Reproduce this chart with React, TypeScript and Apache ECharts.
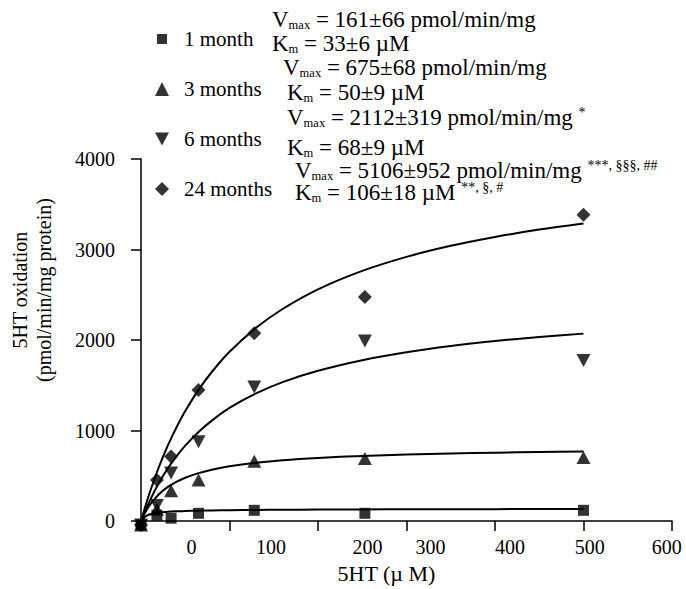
import React, { useEffect, useRef } from "react";
import * as echarts from "echarts";

// ---- data ----
const groups = ["1 month", "3 months", "6 months", "24 months"];
const xPoints = [0, 18, 34, 65, 128, 253, 500];
const month1 = [-43, 65, 32, 86, 119, 86, 119];
const month3 = [-43, 130, 335, 454, 660, 692, 703];
const month6 = [-43, 173, 530, 876, 1481, 1989, 1773];
const month24 = [-43, 454, 714, 1449, 2076, 2476, 3384];

// fitted curves
const fitX = [0, 5, 10, 20, 30, 40, 50, 65, 80, 100, 130, 160, 200, 250, 300, 350, 400, 450, 500];
const fit1 = [0, 50, 75, 95, 103, 108, 112, 115, 117, 120, 123, 125, 127, 129, 130, 131, 132, 133, 133];
const fit3 = [0, 100, 179, 294, 375, 434, 479, 530, 568, 606, 645, 673, 698, 720, 736, 747, 756, 763, 768];
const fit6 = [0, 118, 226, 417, 578, 715, 833, 984, 1110, 1250, 1410, 1535, 1660, 1777, 1865, 1934, 1989, 2034, 2071];
const fit24 = [0, 166, 319, 592, 828, 1034, 1215, 1449, 1647, 1870, 2135, 2343, 2560, 2764, 2919, 3041, 3139, 3220, 3288];

const xTickLabels = ["0", "100", "200", "300", "400", "500", "600"];
const xTickLabelAt = [57, 147, 256, 327, 417, 507, 594];

const vmaxValues = ["161±66", "675±68", "2112±319", "5106±952"];
const vmaxMarks = ["", "", "*", "***, §§§, ##"];
const kmValues = ["33±6", "50±9", "68±9", "106±18"];
const kmMarks = ["", "", "", "**, §, #"];

const FONT = "Liberation Serif";

export default function App() {
  const ref = useRef<HTMLDivElement>(null);
  useEffect(() => {
    if (!ref.current) return;
    const chart = echarts.init(ref.current, undefined, { renderer: "svg" });

    const rich = {
      v: { fontSize: 23, lineHeight: 24, fontFamily: FONT, color: "#000" },
      s: { fontSize: 12.5, lineHeight: 10, verticalAlign: "bottom", fontFamily: FONT, color: "#000" },
      u: { fontSize: 14, lineHeight: 14, verticalAlign: "top", fontFamily: FONT, color: "#000" },
    };
    const vmaxPos = [[272, 19], [283, 67], [287, 117], [295, 170]];
    const kmPos = [[272, 43], [287, 92], [287, 147], [295, 192]];
    const mkText = (x: number, y: number, text: string) => ({
      type: "text",
      x,
      y,
      style: {
        text,
        rich,
        fontFamily: FONT,
        fontSize: 23,
        fill: "#000",
        align: "left",
        verticalAlign: "middle",
        textAlign: "left",
        textVerticalAlign: "middle",
      },
    });
    const graphics: any[] = [];
    groups.forEach((_, i) => {
      graphics.push(
        mkText(
          vmaxPos[i][0],
          vmaxPos[i][1],
          `{v|V}{s|max}{v| = ${vmaxValues[i]} pmol/min/mg}` + (vmaxMarks[i] ? `{v| }{u|${vmaxMarks[i]}}` : "")
        )
      );
      graphics.push(
        mkText(
          kmPos[i][0],
          kmPos[i][1],
          `{v|K}{s|m}{v| = ${kmValues[i]} µM}` + (kmMarks[i] ? `{v| }{u|${kmMarks[i]}}` : "")
        )
      );
    });

    const pts = (ys: number[]) => xPoints.map((x, i) => [x, ys[i]]);
    const fit = (ys: number[]) => fitX.map((x, i) => [x, ys[i]]);
    const lineSeries = (ys: number[]) => ({
      type: "line",
      data: fit(ys),
      smooth: 0.3,
      symbol: "none",
      showSymbol: false,
      silent: true,
      lineStyle: { color: "#000", width: 2 },
      z: 1,
    });
    const scatter = (name: string, ys: number[], symbol: string, size: any, rotate = 0) => ({
      type: "scatter",
      name,
      data: pts(ys),
      symbol,
      symbolSize: size,
      symbolRotate: rotate,
      clip: false,
      itemStyle: { color: "#000" },
      z: 3,
    });

    chart.setOption({
      animation: false,
      backgroundColor: "#fff",
      grid: { left: 139, right: 14, top: 159, bottom: 60, containLabel: false },
      legend: {
        orient: "vertical",
        left: 150,
        top: 23,
        itemWidth: 14,
        itemHeight: 14,
        itemGap: 28,
        selectedMode: false,
        textStyle: { fontFamily: FONT, fontSize: 21, lineHeight: 22, color: "#000", padding: [0, 0, 0, 10] },
        data: [
          { name: groups[0], icon: "path://M0,0M14,14M2,2h10v10h-10z" },
          { name: groups[1], icon: "triangle" },
          { name: groups[2], icon: "path://M0,0L14,0L7,13Z" },
          { name: groups[3], icon: "diamond" },
        ],
      },
      xAxis: {
        type: "value",
        min: 0,
        max: 600,
        interval: 100,
        name: "5HT (µ M)",
        nameLocation: "middle",
        nameGap: 36,
        nameTextStyle: { fontFamily: FONT, fontSize: 22, color: "#000", padding: [0, 40, 0, 0] },
        splitLine: { show: false },
        axisLine: { lineStyle: { color: "#000", width: 1.5 } },
        axisTick: { length: 10, lineStyle: { color: "#000", width: 1.5 } },
        axisLabel: {
          customValues: xTickLabelAt,
          fontFamily: FONT,
          fontSize: 20,
          color: "#000",
          margin: 16,
          formatter: (v: number) => {
            const i = xTickLabelAt.indexOf(v);
            return i >= 0 ? xTickLabels[i] : "";
          },
        },
      },
      yAxis: {
        type: "value",
        min: 0,
        max: 4000,
        interval: 1000,
        name: "5HT oxidation\n(pmol/min/mg protein)",
        nameLocation: "middle",
        nameRotate: 90,
        nameGap: 85,
        nameTextStyle: { fontFamily: FONT, fontSize: 20, lineHeight: 24, color: "#000", padding: [0, 0, 0, 100] },
        splitLine: { show: false },
        axisLine: { show: true, lineStyle: { color: "#000", width: 1.5 } },
        axisTick: { show: true, length: 10, lineStyle: { color: "#000", width: 1.5 } },
        axisLabel: {
          fontFamily: FONT,
          fontSize: 20,
          color: "#000",
          margin: 26,
          formatter: (v: number) => String(v),
        },
      },
      graphic: graphics,
      series: [
        lineSeries(fit1),
        lineSeries(fit3),
        lineSeries(fit6),
        lineSeries(fit24),
        scatter(groups[0], month1, "rect", 11),
        scatter(groups[1], month3, "triangle", [14, 13]),
        scatter(groups[2], month6, "triangle", [14, 13], 180),
        scatter(groups[3], month24, "diamond", 14),
      ],
    });
    return () => chart.dispose();
  }, []);
  return (
    <div
      ref={ref}
      style={{ position: "fixed", left: 0, top: 0, width: 686, height: 589, background: "#fff" }}
    />
  );
}
